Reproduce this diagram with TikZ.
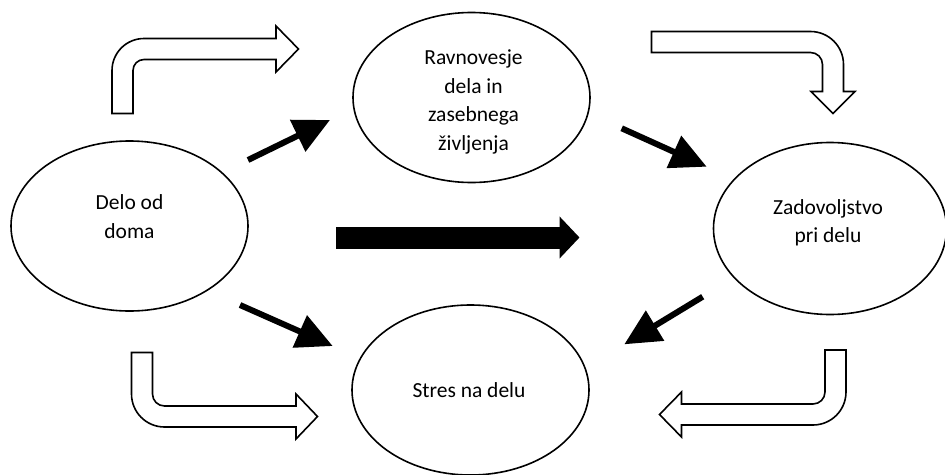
\documentclass[tikz,border=0pt]{standalone}
\usepackage{fontspec}
\setmainfont{Carlito}
\usetikzlibrary{shapes.geometric,arrows.meta}

\tikzset{
  oval/.style={ellipse, draw, line width=1.6pt, inner sep=0pt,
    minimum width=237pt, minimum height=170pt},
  words/.style={align=center, inner sep=0pt,
    font=\fontsize{21.5}{28.5}\selectfont},
  push/.style={line width=6pt, -{Triangle[length=36pt,width=34pt]}},
  hollow/.style={draw, fill=white, line width=1.6pt, line join=miter}
}

\begin{document}
\begin{tikzpicture}[x=1pt, y=-1pt]
    \useasboundingbox (0,0) rectangle (945,474);
    % Ellipses
    \node[oval] (doma) at (129.5,226) {};
    \node[oval] (ravno) at (471.5,97.5) {};
    \node[oval, minimum width=233pt, minimum height=172pt] (zado) at (830,228.5) {};
    \node[oval] (stres) at (470.5,390) {};
    % Texts
    \node[words] (domat) at (129.5,216.5) {Delo od\\doma};
    \node[words] (ravnot) at (473.5,102) {Ravnovesje\\dela in\\zasebnega\\življenja};
    \node[words] (zadot) at (828,223) {Zadovoljstvo\\pri delu};
    \node[words] (stresat) at (469,390) {Stres na delu};
    % Black arrows
    \coordinate (p1) at (248,160);   \coordinate (q1) at (330,120);
    \coordinate (p2) at (621.7,128.3); \coordinate (q2) at (706.7,166.7);
    \coordinate (p3) at (240,305);   \coordinate (q3) at (332.7,346);
    \coordinate (p4) at (702.7,296.7); \coordinate (q4) at (624.3,344.3);
    \coordinate (p5) at (336,237.5); \coordinate (q5) at (579.5,237.5);
    \draw[push] (p1) -- (q1);
    \draw[push] (p2) -- (q2);
    \draw[push] (p3) -- (q3);
    \draw[push] (p4) -- (q4);
    \draw[line width=22pt, -{Triangle[length=20pt,width=41pt]}] (p5) -- (q5);
    % Bent hollow arrows
    \path[hollow] (112,113.5) -- (112,70.5) arc (180:270:32) -- (276,38.5)
        -- (276,26) -- (298.5,49) -- (276,72) -- (276,59.5)
        -- (144,59.5) arc (270:180:11) -- (133,113.5) -- cycle;
    \path[hollow] (651.5,31.5) -- (810.5,31.5) arc (270:360:33) -- (843.5,91.5)
        -- (855,91.5) -- (833,113.5) -- (811,91.5) -- (822.5,91.5)
        -- (822.5,64.5) arc (360:270:12) -- (651.5,52.5) -- cycle;
    \path[hollow] (131.5,352.5) -- (131.5,394) arc (180:90:33) -- (296,427)
        -- (296,439) -- (317.5,416.5) -- (296,394) -- (296,406)
        -- (164.5,406) arc (90:180:12) -- (152.5,352.5) -- cycle;
    \path[hollow] (846,350) -- (846,392) arc (0:90:33) -- (681.5,425)
        -- (681.5,437) -- (659.5,414.5) -- (681.5,392) -- (681.5,404)
        -- (813,404) arc (90:0:12) -- (825,350) -- cycle;
\end{tikzpicture}
\end{document}
